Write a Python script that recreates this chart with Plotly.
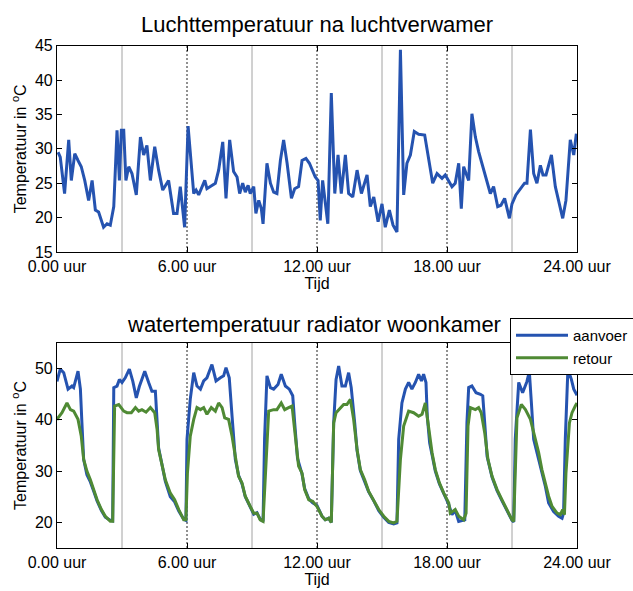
import plotly.graph_objects as go

# Luchttemperatuur na luchtverwamer (uur, °C)
lucht_t = [0.05, 0.15, 0.35, 0.54, 0.66, 0.82, 0.97, 1.12, 1.28, 1.46, 1.62, 1.77, 1.92, 2.15, 2.31, 2.46,
           2.62, 2.77, 2.88, 2.97, 3.08, 3.18, 3.31, 3.46, 3.66, 3.85, 4.0, 4.15, 4.31, 4.51, 4.69, 4.88,
           5.15, 5.38, 5.54, 5.69, 5.89, 6.05, 6.31, 6.42, 6.54, 6.69, 6.82, 6.92, 7.08, 7.31, 7.46, 7.65,
           7.8, 7.97, 8.15, 8.31, 8.43, 8.57, 8.69, 8.82, 8.92, 9.08, 9.18, 9.31, 9.43, 9.51, 9.69, 9.85,
           10.0, 10.15, 10.31, 10.46, 10.62, 10.82, 10.97, 11.15, 11.31, 11.49, 11.65, 11.8, 11.92, 12.05,
           12.15, 12.26, 12.5, 12.66, 12.82, 12.97, 13.12, 13.31, 13.46, 13.65, 13.85, 14.05, 14.31, 14.46,
           14.62, 14.82, 15.0, 15.15, 15.34, 15.51, 15.69, 15.85, 16.0, 16.15, 16.31, 16.49, 16.69, 16.97,
           17.15, 17.34, 17.54, 17.77, 17.92, 18.08, 18.23, 18.38, 18.54, 18.66, 18.77, 18.88, 19.0, 19.15,
           19.31, 19.46, 19.62, 19.8, 20.0, 20.15, 20.34, 20.49, 20.66, 20.88, 21.0, 21.18, 21.38, 21.58,
           21.69, 21.85, 22.0, 22.15, 22.31, 22.43, 22.57, 22.82, 23.0, 23.34, 23.49, 23.69, 23.85, 23.97]
lucht_v = [29.5, 28.8, 23.5, 31.3, 25.4, 29.3, 28.3, 27.4, 25.4, 22.5, 25.4, 21.1, 20.8, 18.6, 19.1, 18.9,
           21.6, 32.7, 25.4, 32.7, 32.7, 25.4, 27.4, 26.4, 23.3, 31.7, 29.1, 30.5, 25.4, 30.3, 26.9, 24.0,
           25.4, 20.6, 20.6, 24.5, 18.6, 33.3, 23.5, 24.0, 23.3, 24.5, 25.4, 24.2, 24.5, 25.0, 26.9, 31.0,
           22.8, 31.3, 26.7, 25.9, 23.5, 25.0, 23.7, 24.7, 23.5, 24.5, 20.6, 22.5, 21.3, 19.1, 27.9, 25.0,
           23.7, 23.5, 28.3, 31.3, 27.9, 22.8, 24.2, 24.5, 28.3, 28.6, 27.9, 26.7, 25.9, 25.4,
           19.6, 25.4, 19.1, 38.1, 23.5, 29.1, 23.5, 29.1, 23.5, 23.0, 26.9, 23.5, 26.2, 21.6,
           23.0, 19.4, 22.0, 18.6, 21.1, 18.9, 17.9, 44.4, 23.3, 27.9, 29.1, 32.5, 32.1, 32.0,
           28.8, 25.0, 26.4, 25.7, 26.2, 25.4, 24.5, 25.0, 27.9, 21.3, 27.4, 26.4, 25.4, 35.1,
           31.7, 29.6, 27.9, 25.9, 23.5, 24.5, 21.6, 21.8, 22.8, 19.9, 22.0, 23.3, 24.2, 25.0,
           25.0, 32.8, 26.4, 25.0, 27.6, 26.2, 26.2, 29.1, 24.5, 19.9, 22.5, 31.3, 29.1, 32.2]

# Watertemperatuur radiator woonkamer: aanvoer (uur, °C)
aanvoer_t = [0.0, 0.05, 0.15, 0.31, 0.51, 0.69, 0.77, 0.97, 1.08, 1.15, 1.23, 1.38, 1.54, 1.69, 1.85, 2.05,
             2.23, 2.46, 2.57, 2.62, 2.77, 2.88, 3.0, 3.15, 3.34, 3.5, 3.66, 3.8, 4.05, 4.23, 4.38, 4.54,
             4.6, 4.69, 4.85, 5.0, 5.23, 5.43, 5.62, 5.85, 5.95, 6.0, 6.15, 6.31, 6.46, 6.62, 6.77, 6.92,
             7.15, 7.34, 7.54, 7.69, 7.8, 7.95, 8.08, 8.23, 8.38, 8.54, 8.69, 8.92, 9.08, 9.23, 9.38, 9.51,
             9.58, 9.69, 9.85, 10.0, 10.2, 10.35, 10.54, 10.72, 10.88, 10.97, 11.1, 11.31, 11.43, 11.62,
             11.8, 12.0, 12.15, 12.23, 12.38, 12.54, 12.66, 12.77, 12.88, 13.0, 13.15, 13.31, 13.46, 13.58,
             13.74, 13.85, 14.0, 14.2, 14.38, 14.62, 14.85, 15.08, 15.31, 15.54, 15.69, 15.77, 15.92, 16.08,
             16.23, 16.38, 16.54, 16.69, 16.82, 16.92, 17.03, 17.09, 17.2, 17.31, 17.46, 17.65, 17.85, 18.08,
             18.23, 18.38, 18.54, 18.82, 18.92, 19.0, 19.15, 19.34, 19.54, 19.65, 19.74, 19.85, 20.08, 20.31,
             20.54, 20.77, 21.0, 21.08, 21.15, 21.31, 21.49, 21.69, 21.8, 21.9, 22.0, 22.23, 22.54, 22.69,
             22.92, 23.15, 23.31, 23.38, 23.46, 23.58, 23.74, 23.85, 24.0]
aanvoer_v = [47.5, 48.2, 49.9, 49.2, 46.0, 46.6, 46.3, 49.5, 46.0, 39.4, 32.3, 29.3, 27.9, 26.1, 24.2, 22.3,
             21.0, 20.4, 20.3, 46.3, 46.6, 47.9, 47.3, 48.2, 49.9, 47.5, 44.3, 46.5, 49.5, 47.3, 45.6, 45.6,
             40.6, 34.5, 31.2, 28.0, 25.0, 24.0, 22.2, 20.6, 20.4, 36.2, 44.0, 49.2, 46.6, 46.0, 47.6, 48.2,
             50.8, 47.6, 48.2, 48.6, 50.2, 48.2, 40.7, 32.3, 29.2, 27.5, 25.0, 23.0, 21.6, 21.9, 20.6, 20.2,
             36.2, 48.6, 46.3, 46.0, 46.9, 48.9, 46.6, 46.0, 44.7, 39.4, 32.5, 29.4, 26.6, 24.6,
             23.8, 23.3, 22.0, 21.2, 20.5, 20.8, 20.0, 39.4, 47.9, 50.5, 46.6, 46.6, 49.2, 46.3,
             39.4, 34.0, 30.1, 28.0, 26.0, 24.2, 22.3, 21.0, 20.0, 19.7, 19.9, 36.2, 43.3, 46.0,
             47.3, 46.0, 47.3, 48.9, 47.6, 48.9, 47.3, 40.7, 35.5, 33.2, 30.0, 27.5, 25.5, 23.5,
             21.5, 22.3, 20.2, 20.5, 39.4, 46.3, 46.6, 45.3, 45.0, 44.7, 39.4, 32.9, 28.8, 26.2,
             24.2, 22.3, 20.4, 20.1, 36.2, 47.3, 45.3, 47.5, 49.4, 43.0, 36.2, 32.3, 27.0, 23.8,
             22.1, 21.2, 20.8, 21.8, 36.2, 49.9, 47.9, 46.0, 44.8]

# Watertemperatuur radiator woonkamer: retour (uur, °C)
retour_t = [0.0, 0.05, 0.23, 0.46, 0.62, 0.77, 0.97, 1.12, 1.23, 1.38, 1.54, 1.69, 1.85, 2.05, 2.23, 2.46,
            2.57, 2.66, 2.85, 3.08, 3.23, 3.43, 3.62, 3.77, 3.92, 4.11, 4.31, 4.51, 4.62, 4.69, 4.85, 5.0,
            5.23, 5.43, 5.62, 5.85, 5.95, 6.02, 6.15, 6.31, 6.46, 6.62, 6.77, 6.92, 7.12, 7.31, 7.46, 7.62,
            7.74, 7.92, 8.08, 8.26, 8.38, 8.54, 8.69, 8.92, 9.08, 9.23, 9.38, 9.51, 9.62, 9.77, 10.0, 10.15,
            10.35, 10.51, 10.69, 10.85, 11.0, 11.15, 11.31, 11.43, 11.62, 11.8, 12.0, 12.15, 12.23, 12.38,
            12.54, 12.66, 12.77, 12.88, 13.08, 13.23, 13.38, 13.54, 13.69, 13.85, 14.0, 14.2, 14.38, 14.62,
            14.85, 15.08, 15.31, 15.54, 15.69, 15.85, 16.0, 16.23, 16.46, 16.69, 16.85, 17.0, 17.15, 17.31,
            17.46, 17.65, 17.85, 18.08, 18.15, 18.38, 18.54, 18.77, 18.88, 18.97, 19.08, 19.31, 19.46, 19.58,
            19.74, 19.89, 20.08, 20.31, 20.54, 20.77, 21.0, 21.08, 21.15, 21.23, 21.43, 21.62, 21.85, 22.0,
            22.23, 22.38, 22.54, 22.69, 22.85, 23.08, 23.23, 23.34, 23.42, 23.49, 23.65, 23.77, 23.92, 24.0]
retour_v = [40.0, 40.4, 41.4, 43.3, 42.0, 41.7, 40.1, 36.8, 32.3, 30.0, 28.3, 26.4, 24.4, 22.5, 21.2, 20.2,
            20.2, 42.7, 43.0, 41.7, 41.4, 41.4, 42.4, 41.7, 42.0, 41.5, 42.4, 41.4, 38.1, 34.2, 31.0, 28.3,
            25.7, 24.4, 22.5, 20.5, 20.5, 29.6, 36.8, 40.1, 42.4, 42.0, 42.4, 41.1, 42.4, 41.7, 43.3, 42.4,
            40.4, 40.1, 36.8, 31.9, 29.0, 27.7, 25.1, 23.1, 21.8, 21.8, 20.5, 20.2, 29.6, 41.7, 42.0, 42.0,
            43.3, 42.0, 42.4, 42.7, 36.8, 31.0, 29.6, 26.4, 24.4, 24.1, 23.1, 21.8, 21.2, 20.5,
            20.8, 20.0, 39.4, 41.4, 42.4, 43.0, 43.0, 44.0, 40.1, 34.2, 30.3, 28.3, 26.1, 24.4,
            22.5, 21.2, 20.2, 19.9, 20.2, 32.3, 38.8, 41.7, 41.4, 40.7, 41.1, 43.3, 38.1, 33.6,
            30.3, 27.7, 25.7, 23.8, 21.8, 22.5, 21.2, 20.5, 21.8, 38.8, 42.4, 42.0, 42.4, 41.4,
            37.5, 32.3, 29.0, 26.4, 24.4, 22.5, 20.5, 20.2, 30.0, 40.4, 43.0, 42.0, 40.1, 37.5,
            33.6, 30.3, 27.7, 25.1, 23.1, 21.8, 21.5, 22.5, 21.5, 29.6, 39.4, 41.4, 42.7, 43.3]

tick_hours = [0, 6, 12, 18, 24]
tick_labels = ["0.00 uur", "6.00 uur", "12.00 uur", "18.00 uur", "24.00 uur"]
solid_marks = [3, 9, 15, 21]
dotted_marks = [6, 12, 18]

FONT = "Liberation Sans, Arial, Helvetica, sans-serif"
BLUE = "#2553b0"
GREEN = "#4f8a34"

fig = go.Figure()
fig.add_trace(go.Scatter(x=lucht_t, y=lucht_v, mode="lines", line=dict(color=BLUE, width=3),
                         xaxis="x", yaxis="y", showlegend=False))
fig.add_trace(go.Scatter(x=aanvoer_t, y=aanvoer_v, mode="lines", name="aanvoer",
                         line=dict(color=BLUE, width=3), xaxis="x2", yaxis="y2"))
fig.add_trace(go.Scatter(x=retour_t, y=retour_v, mode="lines", name="retour",
                         line=dict(color=GREEN, width=3), xaxis="x2", yaxis="y2"))

shapes = []
for xr, yr in (("x", "y domain"), ("x2", "y2 domain")):
    for h in solid_marks:
        shapes.append(dict(type="line", xref=xr, yref=yr, x0=h, x1=h, y0=0, y1=1,
                           line=dict(color="#8a8a8a", width=0.8), layer="below"))
    for h in dotted_marks:
        shapes.append(dict(type="line", xref=xr, yref=yr, x0=h, x1=h, y0=0, y1=1,
                           line=dict(color="#222222", width=1, dash="2px,2px"), layer="below"))

W, H = 633, 591
xdom = [57 / W, 577 / W]

axis_common = dict(showline=True, linecolor="black", linewidth=1.2, mirror="ticks",
                   ticks="inside", ticklen=5, tickcolor="black", showgrid=False, zeroline=False,
                   automargin=False,
                   tickfont=dict(size=16, color="black", family=FONT))

xax = dict(axis_common, range=[0, 24], tickmode="array", tickvals=tick_hours, ticktext=tick_labels,
           title=dict(text="Tijd", font=dict(size=16, color="black", family=FONT), standoff=0))

fig.update_layout(
    width=W, height=H,
    margin=dict(l=0, r=0, t=0, b=0, autoexpand=False),
    paper_bgcolor="white", plot_bgcolor="white",
    font=dict(family=FONT, color="black"),
    xaxis=dict(xax, domain=xdom, anchor="y"),
    yaxis=dict(axis_common, domain=[1 - 252 / H, 1 - 45.6 / H], anchor="x", range=[15, 45],
               tickvals=[15, 20, 25, 30, 35, 40, 45],
               title=dict(text="Temperatuur in <sup>o</sup>C", font=dict(size=16, color="black", family=FONT),
                          standoff=4)),
    xaxis2=dict(xax, domain=xdom, anchor="y2"),
    yaxis2=dict(axis_common, domain=[1 - 548 / H, 1 - 343 / H], anchor="x2", range=[15, 55],
                tickvals=[20, 30, 40, 50],
                title=dict(text="Temperatuur in <sup>o</sup>C", font=dict(size=16, color="black", family=FONT),
                           standoff=4)),
    shapes=shapes,
    annotations=[
        dict(text="Luchttemperatuur na luchtverwamer", xref="paper", yref="paper",
             x=317 / W, y=1 - 25 / H, xanchor="center", yanchor="middle", showarrow=False,
             font=dict(size=22, color="black", family=FONT)),
        dict(text="watertemperatuur radiator woonkamer", xref="paper", yref="paper",
             x=314 / W, y=1 - 325 / H, xanchor="center", yanchor="middle", showarrow=False,
             font=dict(size=22, color="black", family=FONT)),
    ],
    legend=dict(x=510 / W, y=1 - 318 / H, xanchor="left", yanchor="top",
                bgcolor="white", bordercolor="black", borderwidth=1, itemwidth=52,
                font=dict(size=15, color="black", family=FONT), tracegroupgap=0),
)

fig.write_html("out.html")
